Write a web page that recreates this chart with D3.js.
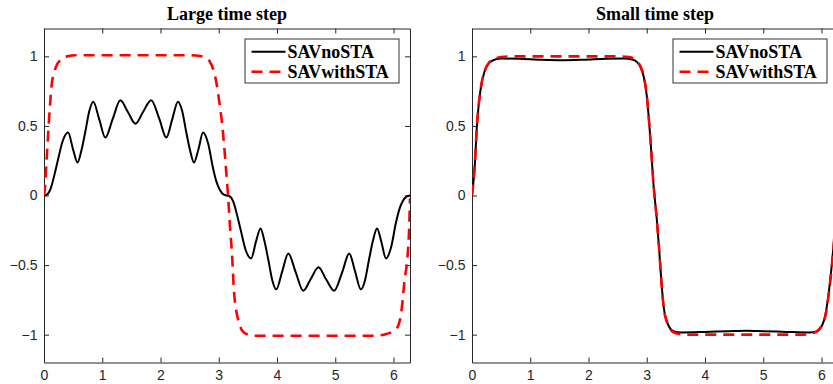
<!DOCTYPE html>
<html>
<head>
<meta charset="utf-8">
<script src="https://cdn.jsdelivr.net/npm/d3@7"></script>
<style>
    body { margin: 0; background: #fff; }
    svg { display: block; }
    .axis { color: #262626; }
    .axis text { font-family: "Liberation Sans", Arial, sans-serif; font-size: 14px; fill: #262626; }
    .panel-title, .legend-label { font-family: "Liberation Serif", "Times New Roman", serif; font-weight: bold; font-size: 18px; fill: #000; }
</style>
</head>
<body>
<div id="chart"></div>
<script>

// values, as [t, u] pairs
const largeNoSTA = [
    [0, 0], [0.06, 0.01], [0.12, 0.057], [0.18, 0.15], [0.236, 0.25], [0.32, 0.39], [0.414, 0.452],
    [0.5, 0.33], [0.575, 0.237], [0.64, 0.32], [0.71, 0.46], [0.78, 0.61], [0.845, 0.674],
    [0.95, 0.545], [1.052, 0.416], [1.18, 0.55], [1.31, 0.684], [1.44, 0.6], [1.571, 0.516],
    [1.7, 0.6], [1.84, 0.684], [1.98, 0.55], [2.1, 0.416], [2.2, 0.545], [2.3, 0.674],
    [2.37, 0.61], [2.44, 0.46], [2.51, 0.32], [2.575, 0.237], [2.65, 0.33], [2.73, 0.452],
    [2.82, 0.37], [2.9, 0.2], [2.96, 0.1], [3.02, 0.04], [3.08, 0.008], [3.1416, 0],
    [3.2, -0.01], [3.26, -0.057], [3.32, -0.15], [3.378, -0.25], [3.46, -0.39], [3.556, -0.452],
    [3.64, -0.33], [3.717, -0.237], [3.78, -0.32], [3.85, -0.46], [3.92, -0.61], [3.987, -0.674],
    [4.09, -0.545], [4.194, -0.416], [4.32, -0.55], [4.45, -0.684], [4.58, -0.6], [4.712, -0.516],
    [4.84, -0.6], [4.98, -0.684], [5.12, -0.55], [5.24, -0.416], [5.34, -0.545], [5.44, -0.674],
    [5.51, -0.61], [5.58, -0.46], [5.65, -0.32], [5.717, -0.237], [5.79, -0.33], [5.87, -0.452],
    [5.96, -0.37], [6.04, -0.2], [6.1, -0.1], [6.16, -0.04], [6.22, -0.008], [6.2832, 0]
]

const largeWithSTA = [
    [0, 0], [0.017, 0.06], [0.04, 0.22], [0.064, 0.39], [0.1, 0.63], [0.133, 0.8], [0.17, 0.88],
    [0.207, 0.925], [0.293, 0.978], [0.4, 1.0], [0.55, 1.008], [2.5, 1.008], [2.7, 1.0],
    [2.77, 0.99], [2.85, 0.96], [2.914, 0.894], [2.96, 0.81], [3.0, 0.7], [3.059, 0.51],
    [3.1, 0.32], [3.14, 0.105], [3.16, 0], [3.19, -0.205], [3.23, -0.44], [3.26, -0.68],
    [3.29, -0.8], [3.32, -0.87], [3.36, -0.93], [3.4, -0.97], [3.5, -1.0], [3.6, -1.008],
    [5.7, -1.008], [5.85, -0.998], [5.95, -0.985], [6.05, -0.958], [6.13, -0.85], [6.19, -0.61],
    [6.24, -0.44], [6.27, -0.22], [6.2832, -0.02]
]

const smallNoSTA = [
    [0, 0], [0.045, 0.2], [0.086, 0.51], [0.143, 0.75], [0.217, 0.894], [0.3, 0.955], [0.4, 0.978],
    [0.5, 0.984], [0.8, 0.982], [1.2, 0.975], [1.571, 0.972], [1.9, 0.975], [2.3, 0.982],
    [2.6, 0.984], [2.75, 0.978], [2.83, 0.96], [2.89, 0.925], [2.95, 0.85], [3.0, 0.72],
    [3.06, 0.42], [3.12, 0.06], [3.17, -0.16], [3.21, -0.37], [3.25, -0.61], [3.29, -0.8],
    [3.35, -0.91], [3.4, -0.955], [3.46, -0.975], [3.6, -0.984], [4.0, -0.98], [4.4, -0.975],
    [4.712, -0.972], [5.0, -0.975], [5.4, -0.98], [5.8, -0.984], [5.9, -0.978], [5.98, -0.955],
    [6.07, -0.85], [6.13, -0.68], [6.19, -0.44], [6.24, -0.2], [6.2832, 0]
]

const smallWithSTA = [
    [0, 0], [0.045, 0.2], [0.086, 0.51], [0.143, 0.75], [0.217, 0.894], [0.3, 0.96], [0.4, 0.985],
    [0.5, 0.995], [0.7, 1.0], [2.5, 1.0], [2.7, 0.995], [2.8, 0.975], [2.89, 0.93], [2.95, 0.855],
    [3.0, 0.72], [3.06, 0.42], [3.12, 0.06], [3.17, -0.16], [3.21, -0.37], [3.25, -0.61],
    [3.29, -0.8], [3.35, -0.915], [3.4, -0.96], [3.5, -0.99], [3.7, -1.0], [5.7, -1.0],
    [5.85, -0.99], [5.95, -0.965], [6.07, -0.86], [6.13, -0.69], [6.19, -0.45], [6.24, -0.2],
    [6.2832, 0]
]

const panelTitles = ["Large time step", "Small time step"]
const seriesNames = ["SAVnoSTA", "SAVwithSTA"]
const xTicks = [0, 1, 2, 3, 4, 5, 6]
const yTicks = [-1, -0.5, 0, 0.5, 1]

class LinePanel {

    constructor(svg, left, title, series) {
        this.svg = svg
        this.left = left
        this.title = title
        this.series = series

        this.initVis()
    }

    initVis() {
        let vis = this

        vis.top = 28.5
        vis.width = 366
        vis.height = 334

        vis.g = vis.svg.append("g")
            .attr("transform", "translate(" + vis.left + "," + vis.top + ")")

        // scales
        vis.x = d3.scaleLinear().domain([0, 2 * Math.PI]).range([0, vis.width])
        vis.y = d3.scaleLinear().domain([-1.2, 1.2]).range([vis.height, 0])

        // clip for the curves
        vis.clipId = "clip-" + Math.round(vis.left)
        vis.g.append("clipPath").attr("id", vis.clipId)
            .append("rect")
            .attr("width", vis.width)
            .attr("height", vis.height)

        // title
        vis.g.append("text")
            .attr("class", "panel-title")
            .attr("x", vis.width / 2)
            .attr("y", -8.5)
            .attr("text-anchor", "middle")
            .text(vis.title)

        vis.updateVis()
    }

    updateVis() {
        let vis = this
        let fmt = d3.format("~g")

        // axes, ticks pointing inward on all four sides
        vis.g.append("g")
            .attr("class", "axis")
            .attr("transform", "translate(0," + vis.height + ")")
            .call(d3.axisBottom(vis.x).tickValues(xTicks).tickFormat(fmt)
                .tickSizeInner(-5).tickSizeOuter(0).tickPadding(8))

        vis.g.append("g")
            .attr("class", "axis")
            .call(d3.axisLeft(vis.y).tickValues(yTicks).tickFormat(fmt)
                .tickSizeInner(-5).tickSizeOuter(0).tickPadding(6.5))

        vis.g.append("g")
            .attr("class", "axis")
            .call(d3.axisTop(vis.x).tickValues(xTicks).tickFormat("")
                .tickSizeInner(-5).tickSizeOuter(0))

        vis.g.append("g")
            .attr("class", "axis")
            .attr("transform", "translate(" + vis.width + ",0)")
            .call(d3.axisRight(vis.y).tickValues(yTicks).tickFormat("")
                .tickSizeInner(-5).tickSizeOuter(0))

        // curves
        let line = d3.line()
            .x(d => vis.x(d[0]))
            .y(d => vis.y(d[1]))
            .curve(d3.curveMonotoneX)

        vis.g.append("g")
            .attr("clip-path", "url(#" + vis.clipId + ")")
            .selectAll(".curve")
            .data(vis.series)
            .enter().append("path")
            .attr("class", "curve")
            .attr("d", d => line(d.values))
            .attr("fill", "none")
            .attr("stroke", d => d.color)
            .attr("stroke-width", d => d.width)
            .attr("stroke-dasharray", d => d.dash)

        // legend box
        let lw = 154
        let legend = vis.g.append("g")
            .attr("transform", "translate(" + (vis.width - 11 - lw) + "," + 10.5 + ")")

        legend.append("rect")
            .attr("width", lw)
            .attr("height", 44)
            .attr("fill", "#fff")
            .attr("stroke", "#333")
            .attr("stroke-width", 1)

        let rows = legend.selectAll(".legend-row")
            .data(vis.series)
            .enter().append("g")
            .attr("class", "legend-row")
            .attr("transform", (d, i) => "translate(0," + (12.7 + i * 20) + ")")

        rows.append("line")
            .attr("x1", 6.5).attr("x2", 40.5)
            .attr("stroke", d => d.color)
            .attr("stroke-width", d => d.width)
            .attr("stroke-dasharray", d => d.dash)

        rows.append("text")
            .attr("class", "legend-label")
            .attr("x", 42.5)
            .attr("y", 6)
            .text(d => d.name)
    }
}

let svg = d3.select("#chart").append("svg")
    .attr("width", 833)
    .attr("height", 384)

const style = [
    { color: "#000", width: 2, dash: null },
    { color: "#ff0000", width: 2.6, dash: "11,7" }
]

new LinePanel(svg, 44, panelTitles[0], [
    { name: seriesNames[0], values: largeNoSTA, ...style[0] },
    { name: seriesNames[1], values: largeWithSTA, ...style[1] }
])

new LinePanel(svg, 472, panelTitles[1], [
    { name: seriesNames[0], values: smallNoSTA, ...style[0] },
    { name: seriesNames[1], values: smallWithSTA, ...style[1] }
])

</script>
</body>
</html>
